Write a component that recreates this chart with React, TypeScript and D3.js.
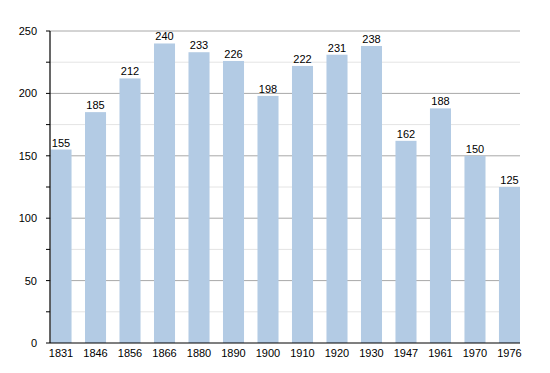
import React from 'react';
import * as d3 from 'd3';

const years = ['1831', '1846', '1856', '1866', '1880', '1890', '1900', '1910', '1920', '1930', '1947', '1961', '1970', '1976'];
const population = [155, 185, 212, 240, 233, 226, 198, 222, 231, 238, 162, 188, 150, 125];
const majorTicks = [0, 50, 100, 150, 200, 250];
const minorTicks = [25, 75, 125, 175, 225];

const App = () => {
  const width = 550;
  const height = 373;
  const margin = { top: 31, right: 30, bottom: 30, left: 50 };

  const x = d3.scaleBand<string>()
    .domain(years)
    .range([margin.left + 0.5, width - margin.right])
    .paddingInner(0.39)
    .paddingOuter(0);

  const y = d3.scaleLinear()
    .domain([0, 250])
    .range([height - margin.bottom, margin.top]);

  const font = 'Liberation Sans, Arial, sans-serif';
  const x0 = margin.left;
  const x1 = width - margin.right;

  return (
    <svg width={width} height={height} style={{ position: 'absolute', left: 0, top: 0 }}>
      {/* gridlines */}
      {minorTicks.map(t => (
        <line key={'m' + t} x1={x0} x2={x1} y1={y(t)} y2={y(t)} stroke="#e4e4e4" strokeWidth={1} />
      ))}
      {majorTicks.filter(t => t > 0).map(t => (
        <line key={'g' + t} x1={x0} x2={x1} y1={y(t)} y2={y(t)} stroke="#a8a8a8" strokeWidth={1} />
      ))}

      {/* bars */}
      {years.map((yr, i) => (
        <rect key={yr}
              x={x(yr)}
              y={y(population[i])}
              width={x.bandwidth()}
              height={y(0) - y(population[i])}
              fill="#b3cbe4" />
      ))}

      {/* value labels */}
      {years.map((yr, i) => (
        <text key={'v' + yr}
              x={(x(yr) as number) + x.bandwidth() / 2}
              y={y(population[i]) - 3}
              textAnchor="middle"
              fontFamily={font}
              fontSize={11}
              fill="#000">
          {population[i]}
        </text>
      ))}

      {/* axes */}
      <line x1={x0} x2={x0} y1={y(250)} y2={y(0)} stroke="#000" strokeWidth={1.2} />
      <line x1={x0} x2={x1} y1={y(0)} y2={y(0)} stroke="#000" strokeWidth={1.2} />
      {majorTicks.concat(minorTicks).map(t => (
        <line key={'t' + t} x1={x0 - 4} x2={x0} y1={y(t)} y2={y(t)} stroke="#000" strokeWidth={1} />
      ))}
      {majorTicks.map(t => (
        <text key={'yl' + t}
              x={37}
              y={y(t) + 4}
              textAnchor="end"
              fontFamily={font}
              fontSize={11}
              fill="#000">
          {t}
        </text>
      ))}
      {years.map(yr => (
        <text key={'xl' + yr}
              x={(x(yr) as number) + x.bandwidth() / 2}
              y={y(0) + 14}
              textAnchor="middle"
              fontFamily={font}
              fontSize={11}
              fill="#000">
          {yr}
        </text>
      ))}
    </svg>
  );
};

export default App;
